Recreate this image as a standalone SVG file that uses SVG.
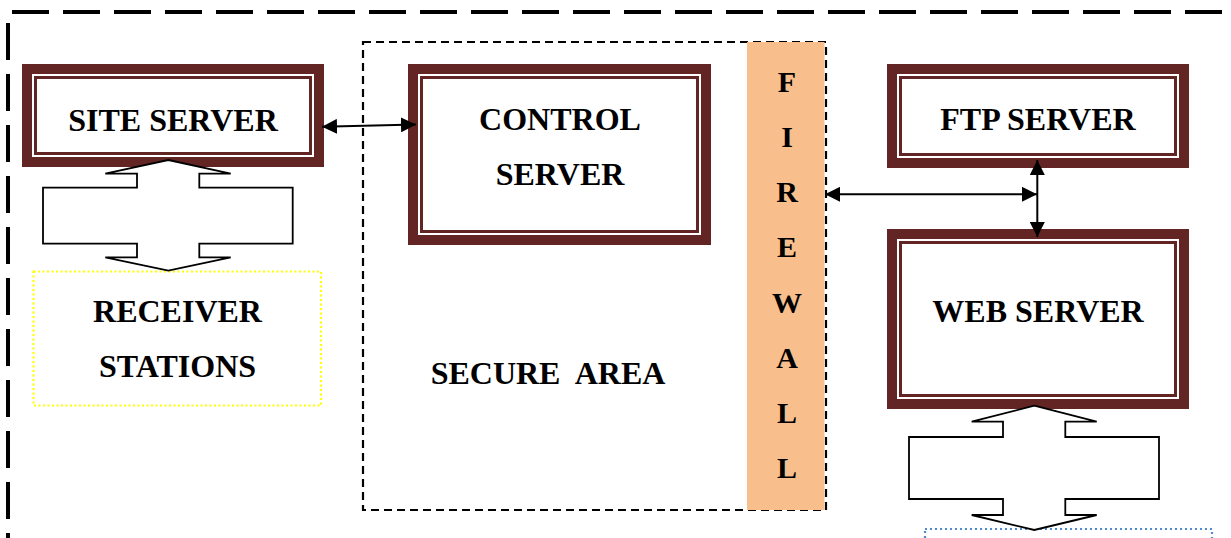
<svg xmlns="http://www.w3.org/2000/svg" width="1231" height="538" viewBox="0 0 1231 538">
  <defs>
    <style>
      .lbl { font-family: "Liberation Serif", "Times New Roman", serif; font-weight: bold; font-size: 32px; fill: #000; text-anchor: middle; }
      .fw { font-size: 30px; }
      .frame { fill: none; stroke: #000; stroke-width: 4; stroke-dasharray: 37 14; }
      .secure { fill: none; stroke: #000; stroke-width: 2.2; stroke-dasharray: 8 5; }
      .outer { fill: #632523; }
      .gap { fill: #fff; }
      .inner { fill: none; stroke: #632523; stroke-width: 3; }
      .link { fill: none; stroke: #000; stroke-width: 2; marker-start: url(#head); marker-end: url(#head); }
      .block { fill: #fff; stroke: #000; stroke-width: 1.8; stroke-linejoin: miter; }
      .yellow { fill: none; stroke: #ffff00; stroke-width: 2.2; stroke-dasharray: 2 2.5; }
      .blue { fill: none; stroke: #4f8ad0; stroke-width: 2.2; stroke-dasharray: 2 3; }
    </style>
    <marker id="head" viewBox="0 0 10 10" refX="10" refY="5" markerUnits="userSpaceOnUse" markerWidth="15" markerHeight="15" orient="auto-start-reverse">
      <path d="M0,0 L10,5 L0,10 z" fill="#000"/>
    </marker>
  </defs>

  <rect width="1231" height="538" fill="#fff"/>

  <!-- outer boundary (top and left edges) -->
  <g id="boundary">
    <line class="frame" x1="12" y1="12" x2="1231" y2="12"/>
    <line class="frame" x1="8" y1="23" x2="8" y2="538"/>
  </g>

  <!-- secure area -->
  <g id="secure-area">
    <rect class="secure" x="363" y="42" width="463" height="468"/>
    <text class="lbl" x="548" y="384" xml:space="preserve">SECURE  AREA</text>
  </g>

  <!-- firewall strip -->
  <g id="firewall">
    <rect x="747" y="42" width="77.5" height="468" fill="#f8bf8d"/>
    <text class="lbl fw" x="787" y="92">F</text>
    <text class="lbl fw" x="787" y="147">I</text>
    <text class="lbl fw" x="787" y="202">R</text>
    <text class="lbl fw" x="787" y="257">E</text>
    <text class="lbl fw" x="787" y="313">W</text>
    <text class="lbl fw" x="787" y="368">A</text>
    <text class="lbl fw" x="787" y="423">L</text>
    <text class="lbl fw" x="787" y="478">L</text>
  </g>

  <!-- servers: thick frame, white gap, thin inner line -->
  <g id="site-server">
    <rect class="outer" x="22" y="64" width="302" height="103"/>
    <rect class="gap" x="32" y="74" width="282" height="83"/>
    <rect class="inner" x="35.5" y="77.5" width="275" height="76"/>
    <text class="lbl" x="173" y="131">SITE SERVER</text>
  </g>

  <g id="control-server">
    <rect class="outer" x="408" y="64" width="303" height="181"/>
    <rect class="gap" x="418" y="74" width="283" height="161"/>
    <rect class="inner" x="421.5" y="77.5" width="276" height="154"/>
    <text class="lbl" x="560" y="130">CONTROL</text>
    <text class="lbl" x="560" y="185">SERVER</text>
  </g>

  <g id="ftp-server">
    <rect class="outer" x="887" y="64" width="302" height="104"/>
    <rect class="gap" x="897" y="74" width="282" height="84"/>
    <rect class="inner" x="900.5" y="77.5" width="275" height="77"/>
    <text class="lbl" x="1038" y="130">FTP SERVER</text>
  </g>

  <g id="web-server">
    <rect class="outer" x="887" y="229" width="302" height="180"/>
    <rect class="gap" x="897" y="239" width="282" height="160"/>
    <rect class="inner" x="900.5" y="242.5" width="275" height="153"/>
    <text class="lbl" x="1038" y="322">WEB SERVER</text>
  </g>

  <g id="receiver-stations">
    <rect class="yellow" x="33.5" y="271.5" width="287.5" height="134"/>
    <text class="lbl" x="177.5" y="322">RECEIVER</text>
    <text class="lbl" x="177.5" y="377">STATIONS</text>
  </g>

  <g id="web-clients">
    <rect class="blue" x="925" y="529" width="287" height="30"/>
  </g>

  <!-- connectors -->
  <g id="connectors">
    <line class="link" x1="322" y1="126.7" x2="416" y2="124.5"/>
    <line class="link" x1="825" y1="194.3" x2="1037" y2="194.3"/>
    <line class="link" x1="1037.3" y1="160" x2="1037.3" y2="237"/>
    <!-- up/down block arrows -->
    <path class="block" d="M168.3,160 L230.7,173.7 L199.3,173.7 L199.3,187.7 L292.7,187.7 L292.7,243.7 L199.3,243.7 L199.3,257.3 L230.7,257.3 L168.3,270.7 L105.3,257.3 L137,257.3 L137,243.7 L43,243.7 L43,187.7 L137,187.7 L137,173.7 L105.3,173.7 Z"/>
    <path class="block" d="M1034.3,405.7 L1096.7,421.7 L1065.3,421.7 L1065.3,437 L1159,437 L1159,499 L1065.3,499 L1065.3,515 L1096.7,515 L1034.3,530 L971.7,515 L1003,515 L1003,499 L909,499 L909,437 L1003,437 L1003,421.7 L971.7,421.7 Z"/>
  </g>
</svg>
